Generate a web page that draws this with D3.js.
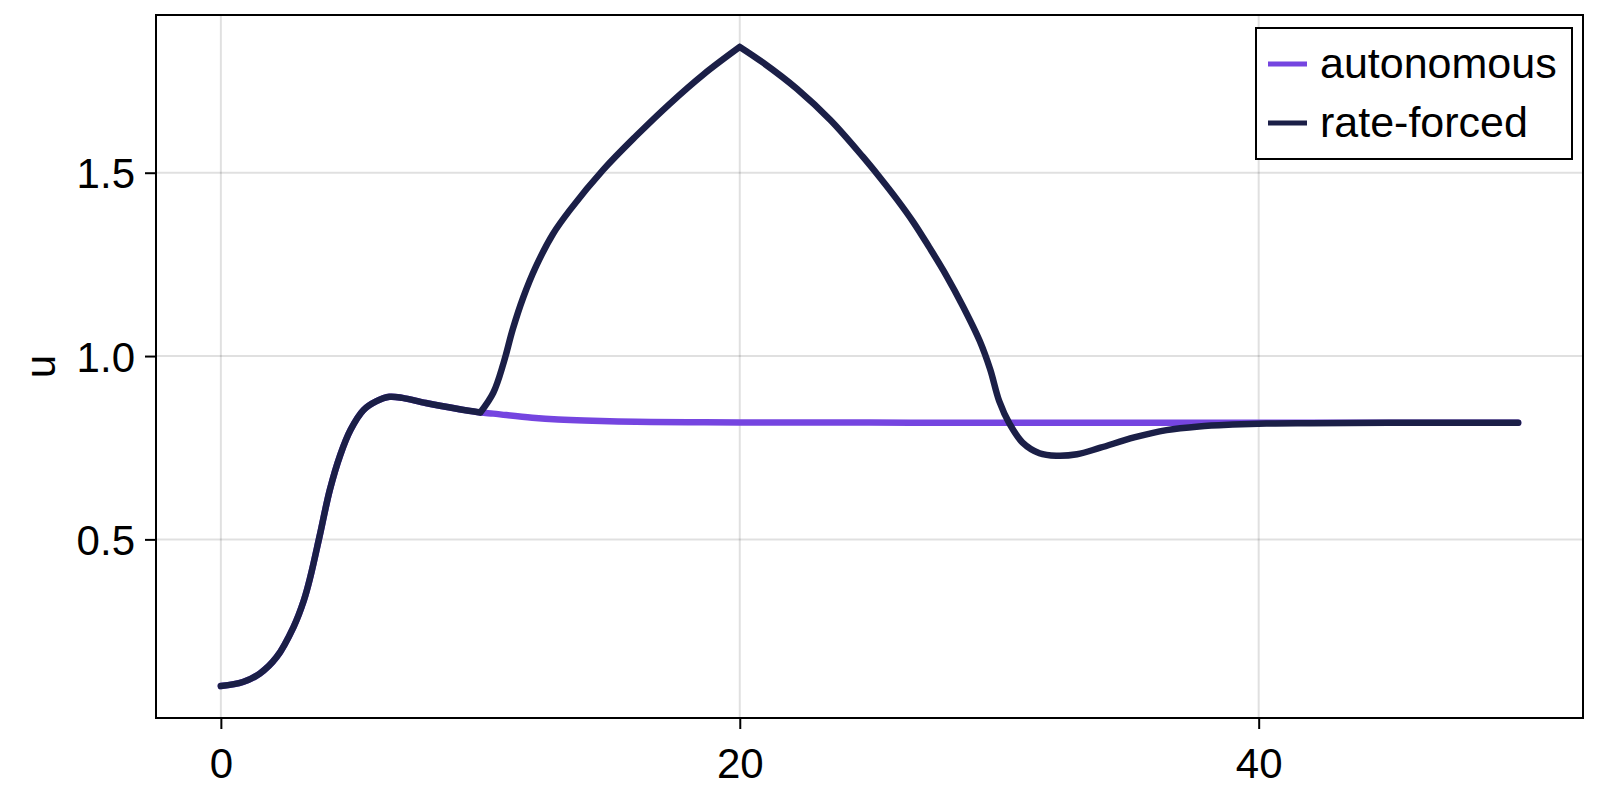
<!DOCTYPE html>
<html lang="en">
<head>
    <meta charset="UTF-8">
    <title>autonomous vs rate-forced</title>
    <script src="https://cdn.jsdelivr.net/npm/d3@7"></script>
    <style>
        body {
            margin: 0;
            background: #fff;
        }

        svg {
            display: block;
            font-family: "Liberation Sans", Arial, sans-serif;
        }

        .grid line {
            stroke: rgba(0, 0, 0, 0.12);
            stroke-width: 2;
        }

        .tick-label {
            font-size: 42px;
            fill: #000;
        }

        .legend-label {
            font-size: 43px;
            fill: #000;
        }
    </style>
</head>
<body>
<script>
    // tick values
    const xTicks = [0, 20, 40];
    const yTicks = [0.5, 1.0, 1.5];
    const yTickLabels = ["0.5", "1.0", "1.5"];

    // both runs agree up to t = 10
    const sharedT = [0, 0.85, 1.5, 2.15, 2.8, 3.2, 3.45, 3.8, 4.2, 4.6, 5.0, 5.5, 6.0, 6.5, 7.0, 7.9, 9.2, 10];
    const sharedU = [0.1, 0.111, 0.134, 0.179, 0.261, 0.334, 0.398, 0.507, 0.635, 0.730, 0.799, 0.853, 0.877, 0.889, 0.886, 0.872, 0.855, 0.846];

    // autonomous after t = 10
    const autoTailT = [10.5, 11, 12, 13, 14, 16, 18, 20, 25, 30, 40, 50];
    const autoTailU = [0.843, 0.839, 0.832, 0.827, 0.824, 0.821, 0.8195, 0.819, 0.8185, 0.818, 0.818, 0.818];

    // rate-forced after t = 10
    const forcedTailT = [10.5, 10.9, 11.25, 11.65, 12.15, 12.8, 13.45, 14.75, 16.0, 17.3, 18.6, 20,
        20.9, 22.2, 23.5, 24.75, 25.4, 26.05, 26.7, 27.3, 27.95, 28.6, 29.25, 29.65, 30.0, 30.4, 30.9, 31.55, 32.2, 33,
        33.9, 35.2, 36.45, 37.7, 39, 40.3, 42, 45, 50];
    const forcedTailU = [0.9, 0.982, 1.073, 1.159, 1.245, 1.333, 1.398, 1.509, 1.6, 1.688, 1.768, 1.843,
        1.8, 1.729, 1.643, 1.543, 1.487, 1.428, 1.364, 1.297, 1.221, 1.136, 1.041, 0.964, 0.877, 0.815, 0.764, 0.735,
        0.728, 0.732, 0.75, 0.778, 0.798, 0.808, 0.813, 0.816, 0.817, 0.818, 0.818];

    // forcing switches on at t = 10 and turns around at t = 20 (corners in the curve)
    const forcedBreaks = [10, 20];

    const seriesNames = ["autonomous", "rate-forced"];

    const width = 1600;
    const height = 800;
    const plot = { left: 156, right: 1583, top: 15, bottom: 718 };

    function toPoints(ts, us) {
        return ts.map((t, i) => ({ t: t, u: us[i] }));
    }

    // split a series at the given times, the break point belongs to both pieces
    function splitAt(points, breaks) {
        const pieces = [];
        let current = [];
        points.forEach(p => {
            current.push(p);
            if (breaks.includes(p.t)) {
                pieces.push(current);
                current = [p];
            }
        });
        if (current.length > 1) pieces.push(current);
        return pieces;
    }

    const series = [
        { name: seriesNames[0], color: "#7545e0", breaks: [],
            points: toPoints(sharedT.concat(autoTailT), sharedU.concat(autoTailU)) },
        { name: seriesNames[1], color: "#1b1f47", breaks: forcedBreaks,
            points: toPoints(sharedT.concat(forcedTailT), sharedU.concat(forcedTailU)) }
    ];

    // Makie style 5% padding around data
    function padded(ext) {
        const pad = (ext[1] - ext[0]) * 0.05;
        return [ext[0] - pad, ext[1] + pad];
    }

    const allPoints = series.flatMap(s => s.points);
    const x = d3.scaleLinear()
        .domain(padded(d3.extent(allPoints, d => d.t)))
        .range([plot.left, plot.right]);
    const y = d3.scaleLinear()
        .domain(padded(d3.extent(allPoints, d => d.u)))
        .range([plot.bottom, plot.top]);

    const svg = d3.select("body").append("svg")
        .attr("width", width)
        .attr("height", height);

    svg.append("defs").append("clipPath")
        .attr("id", "plot-clip")
        .append("rect")
        .attr("x", plot.left)
        .attr("y", plot.top)
        .attr("width", plot.right - plot.left)
        .attr("height", plot.bottom - plot.top);

    // grid
    const grid = svg.append("g").attr("class", "grid");
    grid.selectAll(".gx")
        .data(xTicks)
        .enter().append("line")
        .attr("x1", d => x(d)).attr("x2", d => x(d))
        .attr("y1", plot.top).attr("y2", plot.bottom);
    grid.selectAll(".gy")
        .data(yTicks)
        .enter().append("line")
        .attr("y1", d => y(d)).attr("y2", d => y(d))
        .attr("x1", plot.left).attr("x2", plot.right);

    // lines
    const line = d3.line()
        .x(d => x(d.t))
        .y(d => y(d.u))
        .curve(d3.curveCatmullRom.alpha(0.5));

    svg.append("g")
        .attr("clip-path", "url(#plot-clip)")
        .selectAll("path")
        .data(series)
        .enter().append("path")
        .attr("d", d => splitAt(d.points, d.breaks).map(piece => line(piece)).join(""))
        .attr("fill", "none")
        .attr("stroke", d => d.color)
        .attr("stroke-width", 6.5)
        .attr("stroke-linejoin", "round")
        .attr("stroke-linecap", "round");

    // frame
    svg.append("rect")
        .attr("x", plot.left)
        .attr("y", plot.top)
        .attr("width", plot.right - plot.left)
        .attr("height", plot.bottom - plot.top)
        .attr("fill", "none")
        .attr("stroke", "#000")
        .attr("stroke-width", 2);

    // x axis
    const xAxis = svg.append("g")
        .attr("transform", `translate(0,${plot.bottom})`)
        .call(d3.axisBottom(x).tickValues(xTicks).tickSize(11).tickPadding(0).tickFormat(d3.format("d")));
    xAxis.select(".domain").remove();
    xAxis.selectAll(".tick line").attr("stroke", "#000").attr("stroke-width", 2);
    xAxis.selectAll(".tick text")
        .attr("class", "tick-label")
        .attr("y", 60)
        .attr("dy", null)
        .attr("font-size", null)
        .attr("font-family", null);

    // y axis
    const yAxis = svg.append("g")
        .attr("transform", `translate(${plot.left},0)`)
        .call(d3.axisLeft(y).tickValues(yTicks).tickSize(11).tickPadding(10).tickFormat((d, i) => yTickLabels[i]));
    yAxis.select(".domain").remove();
    yAxis.selectAll(".tick line").attr("stroke", "#000").attr("stroke-width", 2);
    yAxis.selectAll(".tick text")
        .attr("class", "tick-label")
        .attr("dy", "0.36em")
        .attr("font-size", null)
        .attr("font-family", null);

    svg.append("text")
        .attr("class", "tick-label")
        .attr("transform", `translate(55,${(plot.top + plot.bottom) / 2}) rotate(-90)`)
        .attr("text-anchor", "middle")
        .text("u");

    // legend
    const legend = svg.append("g");
    legend.append("rect")
        .attr("x", 1256)
        .attr("y", 28)
        .attr("width", 316)
        .attr("height", 131)
        .attr("fill", "#fff")
        .attr("stroke", "#000")
        .attr("stroke-width", 2);

    const item = legend.selectAll(".item")
        .data(series)
        .enter().append("g")
        .attr("transform", (d, i) => `translate(0,${64 + i * 59})`);
    item.append("line")
        .attr("x1", 1268).attr("x2", 1307)
        .attr("stroke", d => d.color)
        .attr("stroke-width", 5);
    item.append("text")
        .attr("class", "legend-label")
        .attr("x", 1320)
        .attr("y", 14)
        .text(d => d.name);
</script>
</body>
</html>
